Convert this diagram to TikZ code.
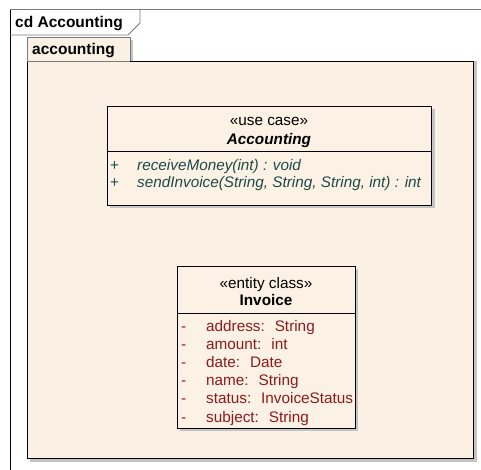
\documentclass[tikz,border=0pt]{standalone}
\usepackage{fontspec}
\setmainfont{Liberation Sans}
\definecolor{pkgfill}{HTML}{FAF0E3}
\definecolor{boxfill}{HTML}{FBF1E5}
\definecolor{shadowgray}{HTML}{C4C4C4}
\definecolor{opcolor}{HTML}{1E4A48}
\definecolor{attrcolor}{HTML}{8E1B1B}
\definecolor{framegray}{HTML}{7A7A7A}
\newcommand\umlsize{\fontsize{15.3}{17}\selectfont}
\tikzset{
  shadowbox/.style={fill=shadowgray, draw=none},
  umlbox/.style={fill=boxfill, draw=black, line width=0.9pt},
  txt/.style={inner sep=0pt, font=\umlsize},
  optxt/.style={txt, anchor=base west, text=opcolor, font=\umlsize\itshape},
  attrtxt/.style={txt, anchor=base west, text=attrcolor},
}
\begin{document}
\begin{tikzpicture}[x=1pt, y=-1pt]
\useasboundingbox (0,0) rectangle (481,470);
\fill[white] (0,0) rectangle (481,470);

% diagram frame
\draw[framegray, line width=1pt] (10,10) -- (481,10);
\draw[black, line width=1pt] (10,10) -- (10,470);
\draw[framegray, line width=0.8pt] (10,35) -- (128,35) -- (140,23) -- (140,10);
\node[txt, anchor=base west, font=\fontsize{15.5}{17}\selectfont\bfseries] (title) at (15,28) {cd Accounting};

% package
\fill[shadowgray] (130,40) rectangle (133,61);
\fill[shadowgray] (30,61) rectangle (477,462);
\filldraw[fill=pkgfill, draw=black, line width=0.8pt] (27,61) rectangle (473,458);
\filldraw[fill=pkgfill, draw=framegray, line width=0.8pt] (27,61) -- (27,37) -- (130,37) -- (130,61);
\draw[framegray, line width=0.8pt] (27,61) -- (130,61);
\node[txt, anchor=base west, font=\fontsize{15.5}{17}\selectfont\bfseries] (pkgname) at (32,55) {accounting};

% use case classifier
\fill[shadowbox] (110,109) rectangle (435,208);
\filldraw[umlbox] (107,106) rectangle (431,205);
\draw[black, line width=0.9pt] (107,151) -- (431,151);
\node[txt, anchor=base] (ucstereo) at (269,126) {«use case»};
\node[txt, anchor=base, font=\umlsize\bfseries\itshape] (ucname) at (269,145) {Accounting};
\node[txt, anchor=base west, text=opcolor] (opvis1) at (110,171) {+};
\node[optxt] (op1) at (137,171) {receiveMoney(int) : void};
\node[txt, anchor=base west, text=opcolor] (opvis2) at (110,188) {+};
\node[optxt] (op2) at (137,188) {sendInvoice(String, String, String, int) : int};

% entity class
\fill[shadowbox] (180,269) rectangle (358,431);
\filldraw[umlbox] (177,266) rectangle (355,428);
\draw[black, line width=0.9pt] (177,313) -- (355,313);
\node[txt, anchor=base] (ecstereo) at (266,288) {«entity class»};
\node[txt, anchor=base, font=\umlsize\bfseries] (ecname) at (266,305) {Invoice};
\foreach \i/\a in {0/{address:~ String}, 1/{amount:~ int}, 2/{date:~ Date}, 3/{name:~ String}, 4/{status:~ InvoiceStatus}, 5/{subject:~ String}} {
  \node[attrtxt] (vis\i) at (181,{331+18.2*\i}) {-};
  \node[attrtxt] (attr\i) at (206,{331+18.2*\i}) {\a};
}
\end{tikzpicture}
\end{document}
